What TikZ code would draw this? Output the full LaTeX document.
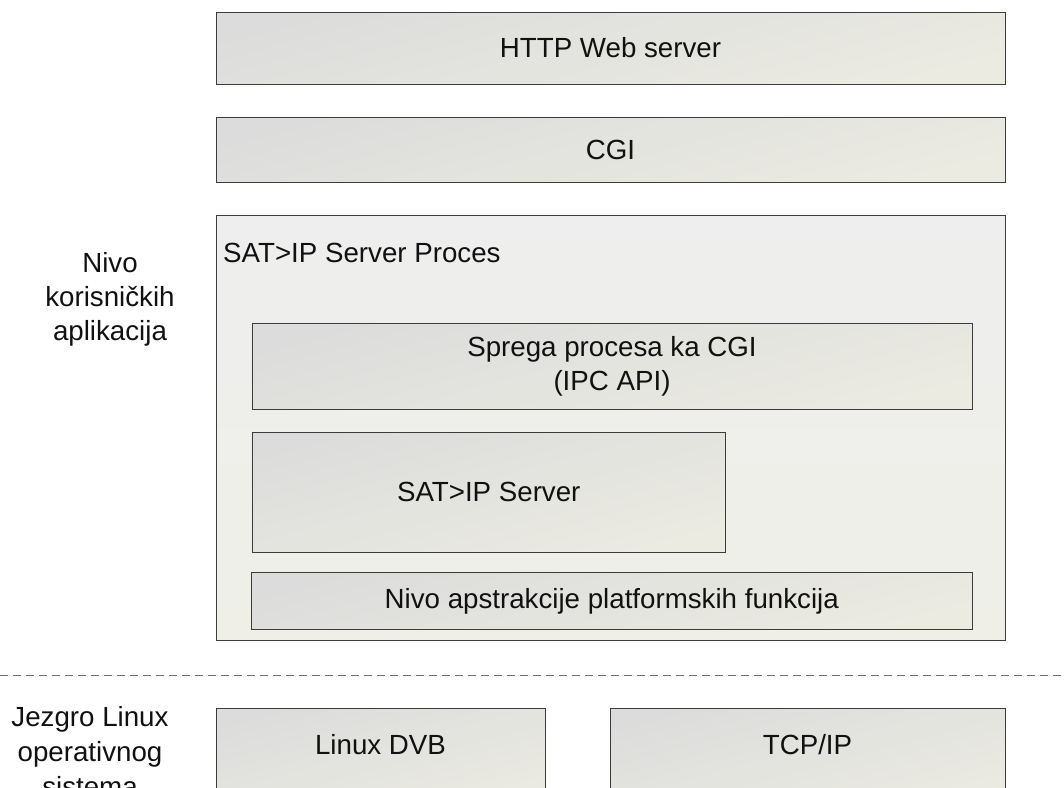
\documentclass[tikz,border=0pt]{standalone}
\usepackage{fontspec}
\setmainfont{Liberation Sans}
\usetikzlibrary{calc}

\definecolor{boxline}{HTML}{3C3C3C}
\definecolor{gradtop}{HTML}{DCDCDC}
\definecolor{gradbot}{HTML}{EBEBE2}
\definecolor{procfill}{HTML}{EEEEEE}
\definecolor{procbot}{HTML}{EFEFE8}
\definecolor{sepline}{HTML}{707070}
\definecolor{ink}{HTML}{111111}

\tikzset{
  layerbox/.style={draw=boxline, line width=1pt, inner sep=0pt,
    top color=gradtop, bottom color=gradbot, shading angle=15},
  procbox/.style={draw=boxline, line width=1pt, inner sep=0pt,
    top color=procfill, bottom color=procbot},
  txt/.style={font=\fontsize{27.7}{34}\selectfont, text=ink, inner sep=0pt},
  sidetxt/.style={txt, align=center},
  seprule/.style={draw=sepline, line width=1pt, dash pattern=on 8pt off 5pt},
}

\begin{document}
\begin{tikzpicture}[x=1pt, y=-1pt]
  \useasboundingbox (0,0) rectangle (1064,787);
  \clip (0,0) rectangle (1064,787);

  % upper layers
  \node[layerbox, minimum width=789pt, minimum height=72pt] (http) at (610.5,48) {};
  \node[txt] (httpt) at (http.center) {HTTP Web server};
  \node[layerbox, minimum width=789pt, minimum height=65pt] (cgi) at (610.5,149.5) {};
  \node[txt] (cgit) at (cgi.center) {CGI};

  % server process and its parts
  \node[procbox, minimum width=789pt, minimum height=425pt] (proc) at (610.5,427.5) {};
  \node[txt, anchor=base west] (proct) at (223,262) {SAT>IP Server Proces};

  \node[layerbox, minimum width=720pt, minimum height=86pt] (ipc) at (612,366) {};
  \node[txt, align=center] (ipct) at (ipc.center) {Sprega procesa ka CGI\\(IPC API)};

  \node[layerbox, minimum width=473.5pt, minimum height=120.5pt] (srv) at (488.75,492.25) {};
  \node[txt] (srvt) at (srv.center) {SAT>IP Server};

  \node[layerbox, minimum width=720.5pt, minimum height=57pt] (hal) at (611.75,601) {};
  \node[txt] (halt) at (hal.center) {Nivo apstrakcije platformskih funkcija};

  % boundary between user space and kernel
  \coordinate (sepl) at (0,675);
  \coordinate (sepr) at (1064,675);
  \draw[seprule] (sepl) -- (sepr);

  % kernel layers
  \node[layerbox, minimum width=329pt, minimum height=100pt] (dvb) at (380.5,758) {};
  \node[txt] (dvbt) at (380.5,745) {Linux DVB};
  \node[layerbox, minimum width=395pt, minimum height=100pt] (tcp) at (807.5,758) {};
  \node[txt] (tcpt) at (807.5,745) {TCP/IP};

  % side captions
  \node[sidetxt] (user) at (110,299.5) {Nivo\\korisničkih\\aplikacija};
  \node[sidetxt, anchor=north, font=\fontsize{27.7}{35}\selectfont] (kern) at (90,706) {Jezgro Linux\\operativnog\\sistema};
\end{tikzpicture}
\end{document}
